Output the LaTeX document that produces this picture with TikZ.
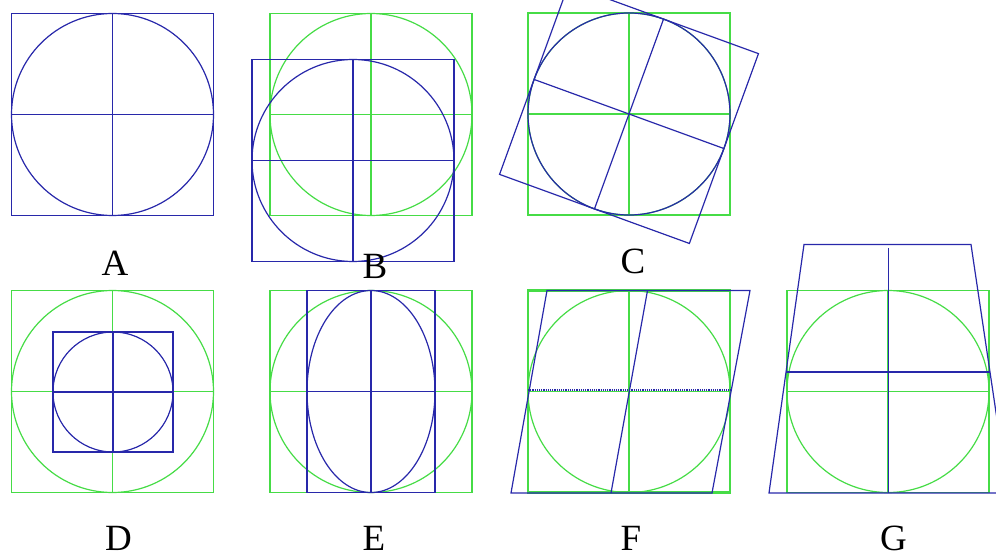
\documentclass[tikz,border=0pt]{standalone}
\usepackage{fontspec}
\setmainfont{Liberation Serif}
\definecolor{figblue}{RGB}{40,40,170}
\definecolor{figgreen}{RGB}{70,220,70}

\begin{document}
\begin{tikzpicture}
  [x=1pt, y=-1pt,
   orig/.style={draw=figgreen, line width=1.2pt},
   trans/.style={draw=figblue, line width=1.2pt},
   panel/.style={font=\fontsize{37}{40}\selectfont, anchor=base, inner sep=0pt}]

  \useasboundingbox (0,0) rectangle (996,556);
  \clip (0,0) rectangle (996,556);

  % Figuras originales (verde)
  \foreach \cx/\cy in {371/114.5, 629/114, 112.5/391.5, 371/391.5, 629/391.5, 888/391.5}
  {
    \draw[orig] (\cx-101,\cy-101) rectangle (\cx+101,\cy+101);
    \draw[orig] (\cx,\cy) circle [radius=101pt];
    \draw[orig] (\cx-101,\cy) -- (\cx+101,\cy);
    \draw[orig] (\cx,\cy-101) -- (\cx,\cy+101);
  }
  \draw[orig, line width=2.2pt] (528,290.5) rectangle (730,492.5);

  % A, B, D: original, traslacion, escala
  \foreach \cx/\cy/\h in {112.5/114.5/101, 353/160.5/101, 113/392/60}
  {
    \draw[trans] (\cx-\h,\cy-\h) rectangle (\cx+\h,\cy+\h);
    \draw[trans] (\cx,\cy) circle [radius=\h pt];
    \draw[trans] (\cx-\h,\cy) -- (\cx+\h,\cy);
    \draw[trans] (\cx,\cy-\h) -- (\cx,\cy+\h);
  }

  % C: rotacion
  \begin{scope}[rotate around={-20:(629,114)}]
    \draw[trans] (528,13) rectangle (730,215);
    \draw[trans] (629,114) circle [radius=101pt];
    \draw[trans] (528,114) -- (730,114);
    \draw[trans] (629,13) -- (629,215);
  \end{scope}

  % E: escala no uniforme
  \draw[trans] (307,290.5) rectangle (435,492.5);
  \draw[trans] (371,391.5) ellipse [x radius=64pt, y radius=101pt];
  \draw[trans] (307,391.5) -- (435,391.5);
  \draw[trans] (371,290.5) -- (371,492.5);

  % F: cizalla
  \draw[trans] (547,290.5) -- (750,290.5) -- (712,493) -- (511,493) -- cycle;
  \draw[trans] (647.5,290.5) -- (611,493);
  \draw[trans, densely dotted] (528,390) -- (731,390);

  % G: perspectiva
  \draw[trans] (769,493) -- (804,244.5) -- (971,244.5) -- (1008,493) -- cycle;
  \draw[trans] (786,372) -- (990,372);
  \draw[trans] (888.5,248) -- (888.5,493);

  % Etiquetas
  \foreach \name/\x/\y in {A/115/275, B/375/278, C/633/273,
                           D/118.5/550, E/374/550, F/631/550, G/893.5/550}
    \node[panel] (lbl\name) at (\x,\y) {\name};
\end{tikzpicture}
\end{document}
